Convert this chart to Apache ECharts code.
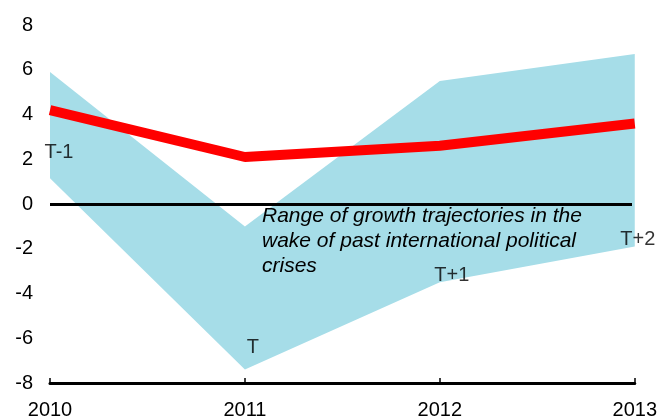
<!DOCTYPE html>
<html>
<head>
<meta charset="utf-8">
<script src="https://cdn.jsdelivr.net/npm/echarts@6/dist/echarts.min.js"></script>
<style>
  html, body { margin: 0; padding: 0; background: #fff; }
  #chart { width: 660px; height: 420px; }
</style>
</head>
<body>
<div id="chart"></div>
<script>
// data
const years = ['2010', '2011', '2012', '2013'];
const growth = [4.2, 2.1, 2.6, 3.6];
const rangeLow = [1.15, -7.4, -3.5, -1.9];
const rangeHigh = [5.9, -1.0, 5.5, 6.7];
const phaseLabels = ['T-1', 'T', 'T+1', 'T+2'];
const phaseLabelY = [2.3, -6.4, -3.2, -1.6];
const phaseLabelDx = [9, 8, 12, 3];
const note = 'Range of growth trajectories in the\nwake of past international political\ncrises';

const chart = echarts.init(document.getElementById('chart'));
const font = 'Liberation Sans, Arial, sans-serif';

const rangeSpan = rangeHigh.map((h, i) => +(h - rangeLow[i]).toFixed(2));

chart.setOption({
  backgroundColor: '#ffffff',
  animation: false,
  grid: { left: 50, right: 24, top: 25, bottom: 36 },
  xAxis: {
    type: 'category',
    data: years,
    boundaryGap: false,
    axisLine: { onZero: false, lineStyle: { color: '#000', width: 3 } },
    axisTick: { inside: true, length: 5, lineStyle: { color: '#000', width: 1.5 } },
    axisLabel: { color: '#000', fontFamily: font, fontSize: 20, margin: 17 },
    splitLine: { show: false }
  },
  yAxis: {
    type: 'value',
    min: -8,
    max: 8,
    interval: 2,
    axisLine: { show: false },
    axisTick: { show: false },
    splitLine: { show: false },
    axisLabel: { color: '#000', fontFamily: font, fontSize: 20, margin: 17, padding: [6, 0, 0, 0] }
  },
  graphic: [{
    type: 'text',
    left: 262,
    top: 204,
    style: {
      text: note,
      fill: '#000',
      font: 'italic 21px ' + font,
      lineHeight: 25
    },
    z: 10
  }],
  series: [
    {
      // invisible base of the band
      type: 'line',
      data: rangeLow,
      stack: 'band',
      stackStrategy: 'all',
      symbol: 'none',
      lineStyle: { opacity: 0 },
      z: 1
    },
    {
      type: 'line',
      data: rangeSpan,
      stack: 'band',
      stackStrategy: 'all',
      symbol: 'none',
      lineStyle: { opacity: 0 },
      areaStyle: { color: '#a6dde8', opacity: 1 },
      z: 1
    },
    {
      // zero line
      type: 'line',
      data: [],
      markLine: {
        silent: true,
        symbol: 'none',
        label: { show: false },
        lineStyle: { color: '#000', width: 3, type: 'solid' },
        data: [[{ coord: ['2010', 0] }, { coord: ['2013', 0], x: 632 }]]
      },
      z: 3
    },
    {
      type: 'line',
      data: growth,
      symbol: 'none',
      lineStyle: { color: '#ff0000', width: 10 },
      z: 4
    },
    {
      type: 'scatter',
      symbolSize: 0,
      data: phaseLabelY.map((v, i) => ({
        value: [years[i], v],
        label: { offset: [phaseLabelDx[i], 0] }
      })),
      label: {
        show: true,
        position: 'inside',
        formatter: p => phaseLabels[p.dataIndex],
        color: '#000',
        textBorderWidth: 0,
        fontFamily: font,
        fontSize: 20
      },
      z: 5
    }
  ]
});
</script>
</body>
</html>
